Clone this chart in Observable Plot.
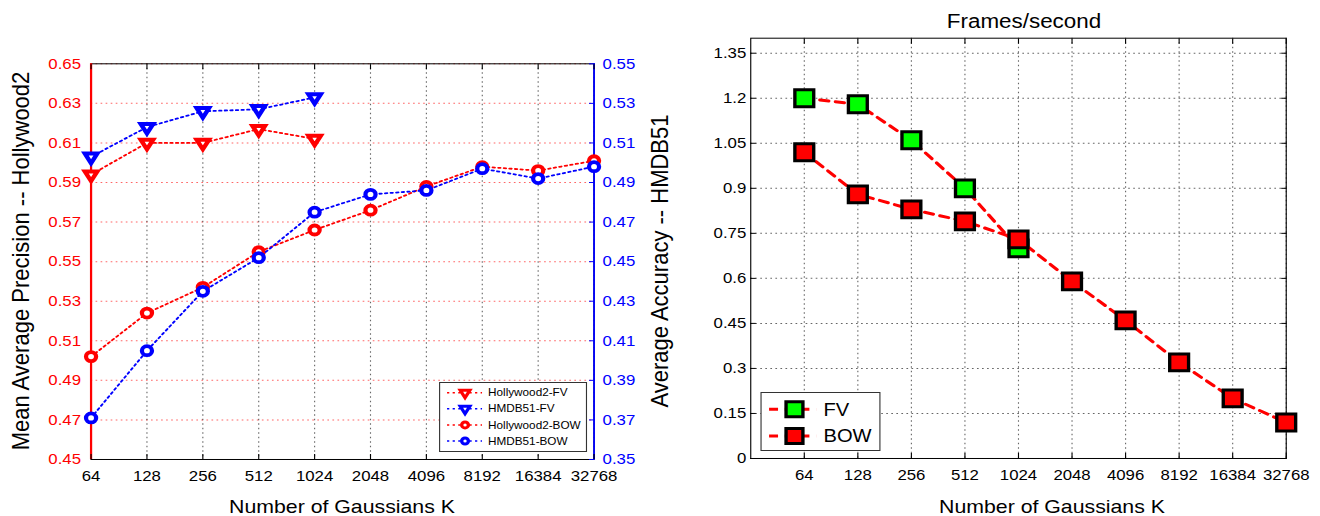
<!DOCTYPE html>
<html><head><meta charset="utf-8">
<script src="https://cdn.jsdelivr.net/npm/d3@7"></script>
<script src="https://cdn.jsdelivr.net/npm/@observablehq/plot@0.6"></script>
<style>
html,body{margin:0;padding:0;background:#fff;}
body{width:1320px;height:516px;overflow:hidden;font-family:"Liberation Sans",Arial,sans-serif;position:relative;}
#wrap{position:absolute;left:0;top:0;height:516px;transform-origin:0 0;}
.abs{position:absolute;white-space:nowrap;line-height:1;color:#000;}
</style></head><body><div id="wrap"></div>
<script>
// ---------- data ----------
const K = ["64","128","256","512","1024","2048","4096","8192","16384","32768"];
const hollywoodFV  = [0.594, 0.610, 0.610, 0.617, 0.612];
const hmdbFV       = [0.503, 0.518, 0.526, 0.527, 0.533];
const hollywoodBOW = [0.502, 0.524, 0.537, 0.555, 0.566, 0.576, 0.588, 0.598, 0.596, 0.601];
const hmdbBOW      = [0.371, 0.405, 0.435, 0.452, 0.475, 0.484, 0.486, 0.497, 0.492, 0.498];
const leftTicks  = [0.45, 0.47, 0.49, 0.51, 0.53, 0.55, 0.57, 0.59, 0.61, 0.63, 0.65];
const rightTicks = [0.35, 0.37, 0.39, 0.41, 0.43, 0.45, 0.47, 0.49, 0.51, 0.53, 0.55];
const fpsFV  = [1.20, 1.18, 1.06, 0.90, 0.70];
const fpsBOW = [1.02, 0.88, 0.83, 0.79, 0.73, 0.59, 0.46, 0.32, 0.20, 0.12];
const fpsTicks = [0, 0.15, 0.3, 0.45, 0.6, 0.75, 0.9, 1.05, 1.2, 1.35];
const fpsMax = 1.4;

const leftLegend = ["Hollywood2-FV", "HMDB51-FV", "Hollywood2-BOW", "HMDB51-BOW"];
const rightLegend = ["FV", "BOW"];
const leftYTitle = "Mean Average Precision -- Hollywood2";
const rightYTitle = "Average Accuracy -- HMDB51";
const xTitle = "Number of Gaussians K";
const fpsTitle = "Frames/second";

// ---------- helpers ----------
const S = 1.12; // horizontal stretch of the original figure
const FONT = "Liberation Sans, Arial, sans-serif";
const RED = "#ff0000", BLUE = "#0000ff", GREEN = "#00ff00";
const offset = leftTicks[0] - rightTicks[0];
const rows = (vals, shift = 0) => vals.map((v, i) => ({k: K[i], v: v + shift}));
const wrap = document.getElementById("wrap");
const W = 660 / S;
wrap.style.width = (1320 / S) + "px";
wrap.style.transform = `scaleX(${S})`;

// ---------- left chart ----------
const left = Plot.plot({
  width: W, height: 516,
  marginLeft: 90.5 / S, marginRight: W - 593.5 / S, marginTop: 63.3, marginBottom: 57,
  style: {fontFamily: FONT, fontSize: "15px", background: "transparent", overflow: "visible"},
  x: {type: "point", domain: K, padding: 0, round: false, axis: null},
  y: {domain: [leftTicks[0], leftTicks[leftTicks.length - 1]], axis: null},
  marks: [
    Plot.gridY(leftTicks, {stroke: RED, strokeOpacity: 0.6, strokeDasharray: "1.5,3"}),
    Plot.gridX(K, {stroke: "#000", strokeOpacity: 0.6, strokeDasharray: "1.5,3"}),
    Plot.frame({stroke: "#000"}),
    Plot.ruleX([K[0]], {stroke: RED, strokeWidth: 2}),
    Plot.ruleX([K[K.length - 1]], {stroke: BLUE, strokeWidth: 1.6}),
    Plot.axisY(leftTicks, {anchor: "left", tickFormat: d => d.toFixed(2), color: RED, tickSize: 0, tickPadding: 9, label: null, fontSize: 15}),
    Plot.axisY(rightTicks.map(v => v + offset), {anchor: "right", tickFormat: d => (d - offset).toFixed(2), color: BLUE, tickSize: -5, tickPadding: 12.6, label: null, fontSize: 15}),
    Plot.axisX(K, {anchor: "bottom", tickSize: -5, tickPadding: 16, label: null, fontSize: 15}),
    Plot.axisX(K, {anchor: "top", tickSize: -5, tickFormat: () => "", label: null}),
    Plot.line(rows(hollywoodFV), {x: "k", y: "v", stroke: RED, strokeWidth: 1.8, strokeDasharray: "2,3"}),
    Plot.dot(rows(hollywoodFV), {x: "k", y: "v", symbol: "triangle", rotate: 180, r: 4.1, stroke: RED, strokeWidth: 4, fill: "white"}),
    Plot.line(rows(hmdbFV, offset), {x: "k", y: "v", stroke: BLUE, strokeWidth: 1.8, strokeDasharray: "2,3"}),
    Plot.dot(rows(hmdbFV, offset), {x: "k", y: "v", symbol: "triangle", rotate: 180, r: 4.1, stroke: BLUE, strokeWidth: 4, fill: "white"}),
    Plot.line(rows(hollywoodBOW), {x: "k", y: "v", stroke: RED, strokeWidth: 1.8, strokeDasharray: "2,3"}),
    Plot.dot(rows(hollywoodBOW), {x: "k", y: "v", r: 4.5, stroke: RED, strokeWidth: 3.8, fill: "white"}),
    Plot.line(rows(hmdbBOW, offset), {x: "k", y: "v", stroke: BLUE, strokeWidth: 1.8, strokeDasharray: "2,3"}),
    Plot.dot(rows(hmdbBOW, offset), {x: "k", y: "v", r: 4.5, stroke: BLUE, strokeWidth: 3.8, fill: "white"})
  ]
});
left.style.position = "absolute"; left.style.left = "0px"; left.style.top = "0px";
wrap.appendChild(left);

// ---------- right chart ----------
const right = Plot.plot({
  width: W, height: 516,
  marginLeft: 90.5 / S, marginRight: W - 626 / S, marginTop: 37.7, marginBottom: 58,
  style: {fontFamily: FONT, fontSize: "15px", background: "transparent", overflow: "visible"},
  x: {type: "point", domain: ["", ...K], padding: 0, round: false, axis: null},
  y: {domain: [0, fpsMax], axis: null},
  marks: [
    Plot.gridY(fpsTicks, {stroke: "#000", strokeOpacity: 0.6, strokeDasharray: "1.5,3"}),
    Plot.gridX(K, {stroke: "#000", strokeOpacity: 0.6, strokeDasharray: "1.5,3"}),
    Plot.frame({stroke: "#000"}),
    Plot.axisY(fpsTicks, {anchor: "left", tickFormat: d => String(+d.toFixed(2)), tickSize: -5, tickPadding: 9, label: null, fontSize: 15}),
    Plot.axisY(fpsTicks, {anchor: "right", tickSize: -5, tickFormat: () => "", label: null}),
    Plot.axisX(K, {anchor: "bottom", tickSize: -5, tickPadding: 16, label: null, fontSize: 15}),
    Plot.axisX(K, {anchor: "top", tickSize: -5, tickFormat: () => "", label: null}),
    Plot.line(rows(fpsFV), {x: "k", y: "v", stroke: RED, strokeWidth: 3, strokeDasharray: "8,6"}),
    Plot.dot(rows(fpsFV), {x: "k", y: "v", symbol: "square", r: 9.5, stroke: "#000", strokeWidth: 3, fill: GREEN}),
    Plot.line(rows(fpsBOW), {x: "k", y: "v", stroke: RED, strokeWidth: 3, strokeDasharray: "8,6"}),
    Plot.dot(rows(fpsBOW), {x: "k", y: "v", symbol: "square", r: 9.5, stroke: "#000", strokeWidth: 3, fill: RED})
  ]
});
right.style.position = "absolute"; right.style.left = W + "px"; right.style.top = "0px";
wrap.appendChild(right);

// ---------- text overlays (positions given in page pixels) ----------
function label(text, x, y, size, rotate = 0) {
  const d = document.createElement("div");
  d.className = "abs";
  d.textContent = text;
  d.style.left = (x / S) + "px"; d.style.top = y + "px";
  d.style.fontSize = size + "px";
  d.style.transform = `translate(-50%,-50%) rotate(${rotate}deg)`;
  wrap.appendChild(d);
}
label(leftYTitle, 21, 261, 22, -90);
label(rightYTitle, 660, 261, 22, -90);
label(xTitle, 342, 506, 19);
label(xTitle, 1052, 506, 19);
label(fpsTitle, 1024, 20.5, 20);

// ---------- legends ----------
function legendBox(x, y, w, h) {
  const d = document.createElement("div");
  d.style.cssText = `position:absolute;left:${x / S}px;top:${y}px;width:${w / S}px;height:${h}px;`;
  wrap.appendChild(d);
  const svg = d3.select(d).append("svg").attr("width", w / S).attr("height", h).style("overflow", "visible");
  svg.append("rect").attr("x", 0.5).attr("y", 0.5).attr("width", w / S - 1).attr("height", h - 1)
    .attr("fill", "white").attr("stroke", "#333").attr("stroke-width", 1);
  return svg;
}
{
  const svg = legendBox(439, 382, 148, 70);
  const spec = [
    {c: RED, s: d3.symbolTriangle, r: 3.2, rot: 180, w: 3},
    {c: BLUE, s: d3.symbolTriangle, r: 3.2, rot: 180, w: 3},
    {c: RED, s: d3.symbolCircle, r: 3, rot: 0, w: 3},
    {c: BLUE, s: d3.symbolCircle, r: 3, rot: 0, w: 3}
  ];
  const ys = [10.7, 26.8, 42.9, 59];
  leftLegend.forEach((t, i) => {
    const g = svg.append("g").attr("transform", `translate(0,${ys[i]})`);
    g.append("line").attr("x1", 8 / S).attr("x2", 43 / S).attr("stroke", spec[i].c)
      .attr("stroke-width", 1.5).attr("stroke-dasharray", "2,3");
    g.append("path").attr("d", d3.symbol(spec[i].s, spec[i].r * spec[i].r * Math.PI)())
      .attr("transform", `translate(${26 / S},0) rotate(${spec[i].rot})`)
      .attr("fill", "white").attr("stroke", spec[i].c).attr("stroke-width", spec[i].w);
    g.append("text").attr("x", 49 / S).attr("dy", "0.35em").attr("font-size", 10.5)
      .attr("font-family", FONT).attr("fill", "#000").text(t);
  });
}
{
  const svg = legendBox(760, 392, 120, 59);
  const fills = [GREEN, RED];
  const ys = [17.3, 44];
  rightLegend.forEach((t, i) => {
    const g = svg.append("g").attr("transform", `translate(0,${ys[i]})`);
    g.append("line").attr("x1", 8.6 / S).attr("x2", 55.7 / S).attr("stroke", RED)
      .attr("stroke-width", 3).attr("stroke-dasharray", "8,6");
    g.append("path").attr("d", d3.symbol(d3.symbolSquare, 8.5 * 8.5 * Math.PI)())
      .attr("transform", `translate(${34 / S},0)`)
      .attr("fill", fills[i]).attr("stroke", "#000").attr("stroke-width", 3);
    g.append("text").attr("x", 63 / S).attr("dy", "0.35em").attr("font-size", 18)
      .attr("font-family", FONT).attr("fill", "#000").text(t);
  });
}
</script>
</body></html>
